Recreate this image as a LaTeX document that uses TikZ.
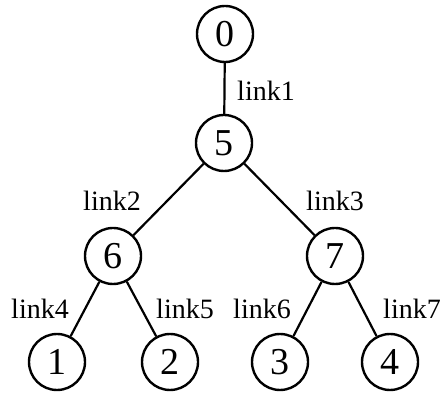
\documentclass[tikz,border=0pt]{standalone}
\usepackage{fontspec}
\setmainfont{Liberation Serif}
\begin{document}
\begin{tikzpicture}[x=0.5pt,y=-0.5pt,
  treenode/.style={circle,draw,line width=1.2pt,minimum size=28pt,inner sep=0pt,font=\fontsize{19}{22}\selectfont},
  linklabel/.style={inner sep=0pt,font=\fontsize{14}{16}\selectfont},
  edge/.style={line width=1.1pt}]
\useasboundingbox (0,0) rectangle (443,394);
\node[treenode] (n0) at (225,34) {0};
\node[treenode] (n5) at (224,143) {5};
\node[treenode] (n6) at (113,256) {6};
\node[treenode] (n7) at (335,256) {7};
\node[treenode] (n1) at (57,362) {1};
\node[treenode] (n2) at (170,362) {2};
\node[treenode] (n3) at (280,362) {3};
\node[treenode] (n4) at (390,362) {4};
\draw[edge] (n0) -- (n5);
\draw[edge] (n5) -- (n6);
\draw[edge] (n5) -- (n7);
\draw[edge] (n6) -- (n1);
\draw[edge] (n6) -- (n2);
\draw[edge] (n7) -- (n3);
\draw[edge] (n7) -- (n4);
\node[linklabel] (l1) at (266,91) {link1};
\node[linklabel] (l2) at (112,201) {link2};
\node[linklabel] (l3) at (335,201) {link3};
\node[linklabel] (l4) at (40,309) {link4};
\node[linklabel] (l5) at (185,309) {link5};
\node[linklabel] (l6) at (262,309) {link6};
\node[linklabel] (l7) at (412,309) {link7};
\end{tikzpicture}
\end{document}
